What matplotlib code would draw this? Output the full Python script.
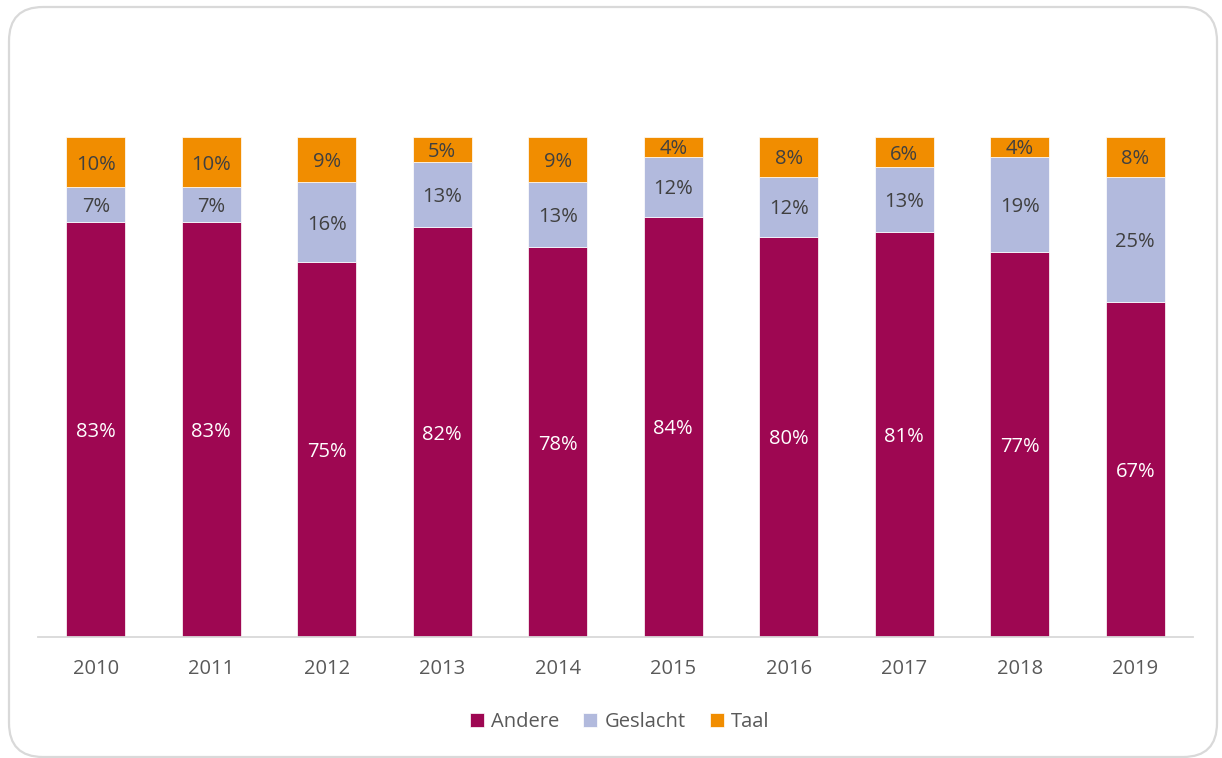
import numpy as np
import matplotlib.pyplot as plt
from matplotlib.patches import FancyBboxPatch
from matplotlib.transforms import IdentityTransform

plt.rcParams['font.family'] = ['Open Sans', 'DejaVu Sans']

# data (percentages per year)
years = ['2010', '2011', '2012', '2013', '2014', '2015', '2016', '2017', '2018', '2019']
andere = [83, 83, 75, 82, 78, 84, 80, 81, 77, 67]
geslacht = [7, 7, 16, 13, 13, 12, 12, 13, 19, 25]
taal = [10, 10, 9, 5, 9, 4, 8, 6, 4, 8]

colAndere = '#9E0752'
colGeslacht = '#B2BADD'
colTaal = '#F18D00'

W, H = 1222, 758
fig = plt.figure(figsize=(W / 100, H / 100), dpi=100)

# rounded frame around chart (pixel coords, origin bottom-left)
frame = FancyBboxPatch((9, 1), 1208, 750,
                       boxstyle='round,pad=0,rounding_size=34',
                       transform=IdentityTransform(), facecolor='none',
                       edgecolor='#d9d9d9', linewidth=1.6, zorder=-1)
fig.patches.append(frame)

ax = fig.add_axes([38 / W, (H - 637) / H, 1155 / W, 500 / H])
ax.set_facecolor('none')

x = np.arange(len(years))
bw = 0.51
a = np.array(andere)
g = np.array(geslacht)
t = np.array(taal)

b1 = ax.bar(x, a, bw, color=colAndere, edgecolor='white', linewidth=0.5, label='Andere')
b2 = ax.bar(x, g, bw, bottom=a, color=colGeslacht, edgecolor='white', linewidth=0.5, label='Geslacht')
b3 = ax.bar(x, t, bw, bottom=a + g, color=colTaal, edgecolor='white', linewidth=0.5, label='Taal')

######## data labels in segment centres ########
for i in range(len(years)):
    ax.text(x[i], a[i] / 2, f'{andere[i]}%', ha='center', va='center_baseline',
            color='white', fontsize=14.5)
    ax.text(x[i], a[i] + g[i] / 2, f'{geslacht[i]}%', ha='center', va='center_baseline',
            color='#404040', fontsize=14.5)
    ax.text(x[i], a[i] + g[i] + t[i] / 2, f'{taal[i]}%', ha='center', va='center_baseline',
            color='#404040', fontsize=14.5)

ax.set_xlim(-0.5, len(years) - 0.5)
ax.set_ylim(0, 100)
ax.set_xticks(x)
ax.set_xticklabels(years, fontsize=14.5, color='#595959')
ax.tick_params(axis='x', length=0, pad=16)
ax.set_yticks([])
for s in ['top', 'right', 'left']:
    ax.spines[s].set_visible(False)
ax.spines['bottom'].set_color('#d9d9d9')
ax.spines['bottom'].set_linewidth(1.3)

leg = fig.legend(handles=[b1, b2, b3], loc='center', bbox_to_anchor=(0.507, 1 - 722 / H),
                 ncol=3, frameon=False, fontsize=14.5, handlelength=0.7, handleheight=0.7,
                 handletextpad=0.35, columnspacing=1.2)
for txt in leg.get_texts():
    txt.set_color('#595959')

plt.savefig('out.png', dpi=100)
plt.close('all')
